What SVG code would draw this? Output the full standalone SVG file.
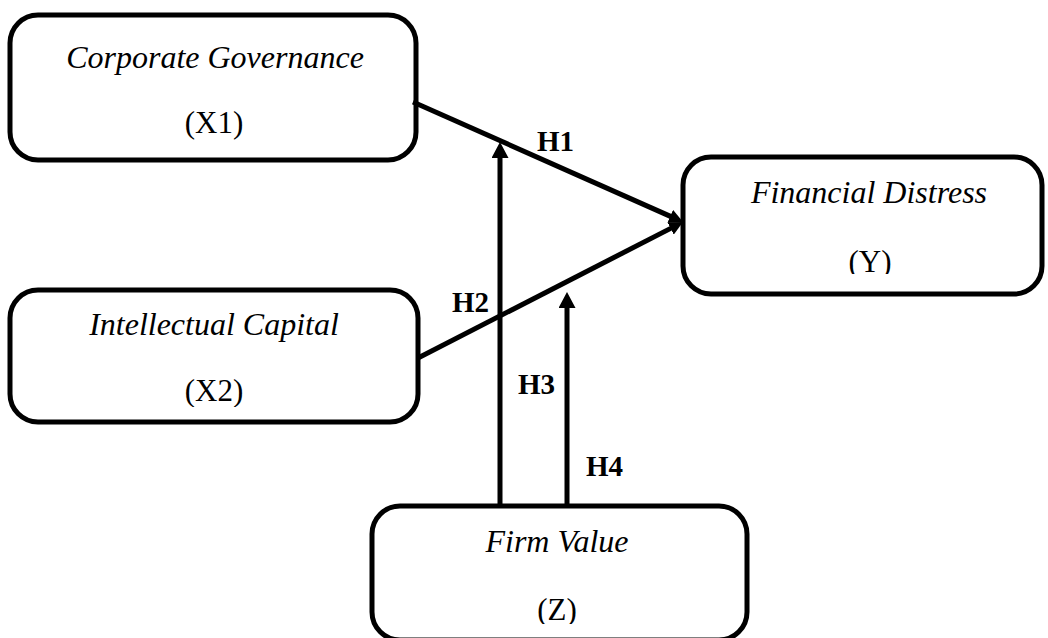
<svg xmlns="http://www.w3.org/2000/svg" width="1048" height="638" viewBox="0 0 1048 638">
  <style>
    .box { fill: #ffffff; stroke: #000000; stroke-width: 5; }
    .ttl { font-family: "Liberation Serif", "Times New Roman", serif; font-style: italic; font-size: 32px; fill: #000; text-anchor: middle; }
    .var { font-family: "Liberation Serif", "Times New Roman", serif; font-size: 31px; fill: #000; text-anchor: middle; }
    .hyp { font-family: "Liberation Serif", "Times New Roman", serif; font-weight: bold; font-size: 29px; fill: #000; }
    .conn { stroke: #000000; stroke-width: 5; fill: none; stroke-linecap: butt; }
  </style>
  <defs>
    <marker id="arrowBig" markerUnits="userSpaceOnUse" markerWidth="16" markerHeight="17" refX="6" refY="8.5" orient="auto">
      <path d="M0,0 L16,8.5 L0,17 z" fill="#000"/>
    </marker>
    <marker id="arrowSmall" markerUnits="userSpaceOnUse" markerWidth="14" markerHeight="14" refX="4" refY="7" orient="auto">
      <path d="M0,0 L14,7 L0,14 z" fill="#000"/>
    </marker>
    <clipPath id="clipY"><rect x="683" y="157" width="360" height="117"/></clipPath>
    <clipPath id="clipX2"><rect x="10" y="290" width="408" height="117"/></clipPath>
    <clipPath id="clipZ"><rect x="372" y="506" width="375" height="118"/></clipPath>
  </defs>

  <g id="node-x1">
    <rect class="box" x="10" y="15" width="406" height="145" rx="28" ry="28"/>
    <text class="ttl" x="215" y="68">Corporate Governance</text>
    <text class="var" x="214" y="133">(X1)</text>
  </g>

  <g id="node-x2">
    <rect class="box" x="10" y="290" width="408" height="132" rx="28" ry="28"/>
    <text class="ttl" x="214" y="335">Intellectual Capital</text>
    <text class="var" x="214" y="401" clip-path="url(#clipX2)">(X2)</text>
  </g>

  <g id="node-y">
    <rect class="box" x="683" y="157" width="359" height="137" rx="28" ry="28"/>
    <text class="ttl" x="869" y="203">Financial Distress</text>
    <text class="var" x="870" y="272" clip-path="url(#clipY)">(Y)</text>
  </g>

  <g id="node-z">
    <rect class="box" x="372" y="506" width="375" height="134" rx="28" ry="28"/>
    <text class="ttl" x="557" y="552">Firm Value</text>
    <text class="var" x="557" y="620" clip-path="url(#clipZ)">(Z)</text>
  </g>

  <g id="connectors">
    <line class="conn" x1="413" y1="102" x2="673.9" y2="217.9" marker-end="url(#arrowSmall)"/>
    <line class="conn" x1="418" y1="358" x2="674.1" y2="226.6" marker-end="url(#arrowSmall)"/>
    <line class="conn" x1="500" y1="506" x2="500" y2="152" marker-end="url(#arrowBig)"/>
    <line class="conn" x1="567" y1="506" x2="567" y2="302" marker-end="url(#arrowBig)"/>
  </g>

  <g id="labels">
    <text class="hyp" x="537" y="151">H1</text>
    <text class="hyp" x="452" y="312">H2</text>
    <text class="hyp" x="518" y="394">H3</text>
    <text class="hyp" x="586" y="476">H4</text>
  </g>
</svg>
